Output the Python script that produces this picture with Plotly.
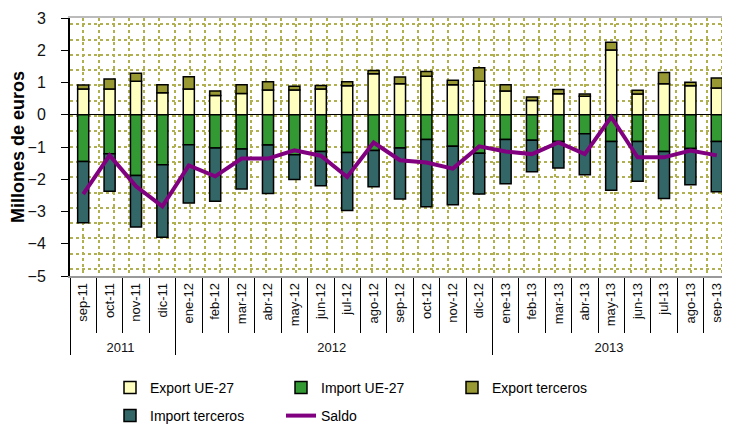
import plotly.graph_objects as go

# categories
years = ["2011"] * 4 + ["2012"] * 12 + ["2013"] * 9
months = ["sep-11", "oct-11", "nov-11", "dic-11",
          "ene-12", "feb-12", "mar-12", "abr-12", "may-12", "jun-12",
          "jul-12", "ago-12", "sep-12", "oct-12", "nov-12", "dic-12",
          "ene-13", "feb-13", "mar-13", "abr-13", "may-13", "jun-13",
          "jul-13", "ago-13", "sep-13"]

# series (millones de euros)
export_ue = [0.80, 0.80, 1.04, 0.68, 0.80, 0.60, 0.66, 0.77, 0.77, 0.80,
             0.90, 1.27, 0.96, 1.19, 0.93, 1.04, 0.74, 0.44, 0.65, 0.57,
             2.01, 0.64, 0.96, 0.90, 0.83]
export_terceros = [0.12, 0.31, 0.25, 0.25, 0.38, 0.14, 0.27, 0.25, 0.11, 0.11,
                   0.12, 0.10, 0.21, 0.15, 0.14, 0.42, 0.19, 0.11, 0.13, 0.07,
                   0.24, 0.12, 0.35, 0.11, 0.31]
import_ue = [-1.45, -1.21, -1.88, -1.55, -0.93, -1.03, -1.06, -0.94, -1.24, -1.14,
             -1.17, -1.11, -1.03, -0.77, -0.98, -1.19, -0.77, -0.79, -0.83, -0.59,
             -0.83, -0.83, -1.14, -1.05, -0.83]
import_terceros = [-1.90, -1.16, -1.60, -2.25, -1.81, -1.65, -1.24, -1.50, -0.77, -1.06,
                   -1.80, -1.12, -1.58, -2.08, -1.81, -1.27, -1.37, -0.98, -0.82, -1.27,
                   -1.51, -1.23, -1.46, -1.12, -1.56]
saldo = [-2.46, -1.26, -2.22, -2.84, -1.57, -1.91, -1.36, -1.36, -1.10, -1.27,
         -1.93, -0.86, -1.41, -1.48, -1.67, -0.98, -1.14, -1.22, -0.86, -1.22,
         -0.07, -1.32, -1.32, -1.11, -1.26]

x = [years, months]
outline = dict(color="black", width=1.5)

fig = go.Figure()
# one legend per entry so the 3-column grid can be placed exactly
fig.add_trace(go.Bar(x=x, y=export_ue, name="Export UE-27", legend="legend",
                     marker=dict(color="#FFFFC0", line=outline)))
fig.add_trace(go.Bar(x=x, y=import_ue, name="Import UE-27", legend="legend2",
                     marker=dict(color="#339933", line=outline)))
fig.add_trace(go.Bar(x=x, y=export_terceros, name="Export terceros", legend="legend3",
                     marker=dict(color="#999933", line=outline)))
fig.add_trace(go.Bar(x=x, y=import_terceros, name="Import terceros", legend="legend4",
                     marker=dict(color="#336666", line=outline)))
fig.add_trace(go.Scatter(x=x, y=saldo, name="Saldo", mode="lines", legend="legend5",
                         line=dict(color="#800080", width=4)))

# empty trace so the background dotted pattern axes get drawn
fig.add_trace(go.Scatter(x=[], y=[], xaxis="x2", yaxis="y2",
                         showlegend=False, hoverinfo="skip"))

font = "Liberation Sans, Arial, sans-serif"
dot_grid = dict(showgrid=True, gridcolor="#b0b050", griddash="dot", gridwidth=1.5,
                showticklabels=False, ticks="", zeroline=False, fixedrange=True)
leg = dict(orientation="h", xanchor="left", yanchor="middle", xref="container",
           yref="container", font=dict(size=14, family=font), itemwidth=30,
           bgcolor="rgba(0,0,0,0)")
row1 = 1 - 380 / 425
row2 = 1 - 408 / 425
col1, col2, col3 = 102 / 730, 273 / 730, 444 / 730

fig.update_layout(
    width=730, height=425,
    margin=dict(l=62, r=8, t=10, b=157, autoexpand=False),
    paper_bgcolor="white", plot_bgcolor="white",
    font=dict(family=font, color="black"),
    barmode="relative", bargap=0.58,
    showlegend=True,
    legend=dict(leg, x=col1, y=row1),
    legend2=dict(leg, x=col2, y=row1),
    legend3=dict(leg, x=col3, y=row1),
    legend4=dict(leg, x=col1, y=row2),
    legend5=dict(leg, x=col2, y=row2),
    xaxis=dict(type="multicategory", tickangle=-90, tickfont=dict(size=13, color="#111"),
               ticks="outside", tickson="boundaries", ticklen=55, tickcolor="black",
               showline=True, linecolor="#999", linewidth=1.5,
               showdividers=True, dividercolor="black", dividerwidth=1,
               showgrid=False, automargin=False),
    yaxis=dict(range=[-5, 3], dtick=1, tickfont=dict(size=16, color="#111"),
               ticks="outside", ticklen=7, tickcolor="black", ticklabelstandoff=12,
               ticklabeloverflow="allow",
               showline=True, linecolor="black", linewidth=2, automargin=False,
               showgrid=False, zeroline=True, zerolinecolor="black", zerolinewidth=1,
               title=dict(text="<b>Millones de euros</b>", font=dict(size=18), standoff=12)),
    xaxis2=dict(overlaying="x", side="top", range=[0, 660], tick0=13.3, dtick=15.2,
                showline=True, linecolor="#bbb", linewidth=2, **dot_grid),
    yaxis2=dict(overlaying="y", side="right", range=[0, 258], tick0=7, dtick=15.3,
                showline=False, **dot_grid),
)

fig.write_html("out.html")
